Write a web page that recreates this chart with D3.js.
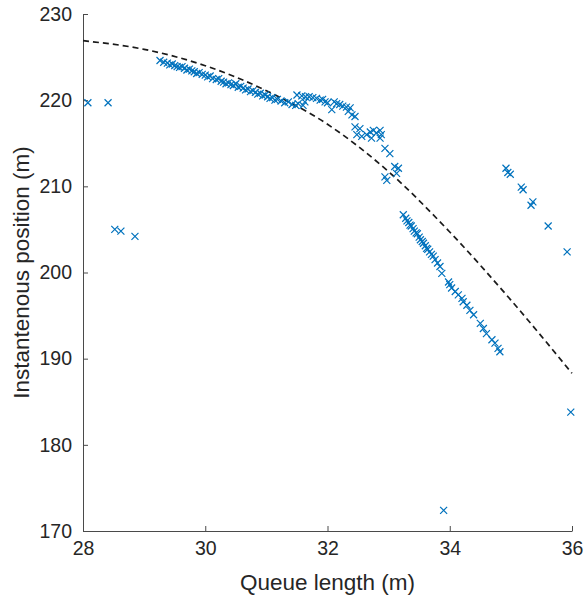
<!DOCTYPE html>
<html><head><meta charset="utf-8">
<script src="https://cdn.jsdelivr.net/npm/d3@7"></script>
<style>body{margin:0;background:#fff}svg{display:block}text{font-family:"Liberation Sans",Arial,Helvetica,sans-serif;fill:#262626}</style>
</head><body><svg id="c" width="585" height="599"></svg>
<script>
const xTicks = [28, 30, 32, 34, 36];
const yTicks = [170, 180, 190, 200, 210, 220, 230];
const xLabel = "Queue length (m)";
const yLabel = "Instantenous position (m)";

// fitted curve (dashed)
const fitX = [28, 29, 30, 31, 32, 33, 34, 35, 36];
const fitY = [226.9, 225.9, 224.0, 221.1, 217.2, 211.7, 204.7, 196.8, 188.3];

// scatter points (x = queue length, y = position)
const isolatedX = [28.08, 28.41, 28.52, 28.62, 28.85, 33.90, 35.98, 35.92, 35.61, 35.36, 35.33, 35.17, 35.20, 34.92, 34.95, 34.99];
const isolatedY = [219.7, 219.7, 205.0, 204.8, 204.2, 172.4, 183.8, 202.4, 205.4, 208.2, 207.8, 209.9, 209.6, 212.1, 211.6, 211.4];

const band1X = [29.26, 29.32, 29.38, 29.42, 29.46, 29.50, 29.54, 29.58, 29.62, 29.66, 29.70, 29.74, 29.78, 29.82, 29.86, 29.90, 29.95, 30.00, 30.04, 30.08, 30.12, 30.18, 30.22, 30.26, 30.30, 30.34, 30.38, 30.42, 30.46, 30.50, 30.54, 30.58, 30.62, 30.66, 30.70, 30.74, 30.78, 30.82, 30.86, 30.90, 30.94, 30.98, 31.02, 31.06, 31.10, 31.14, 31.18, 31.24, 31.30, 31.36, 31.42, 31.48, 31.52];
const band1Y = [224.6, 224.4, 224.3, 224.1, 224.2, 224.0, 223.9, 223.8, 223.9, 223.7, 223.5, 223.6, 223.4, 223.3, 223.1, 223.2, 223.0, 222.9, 222.7, 222.8, 222.5, 222.4, 222.5, 222.2, 222.1, 221.9, 222.0, 221.8, 221.7, 221.9, 221.5, 221.6, 221.4, 221.2, 221.3, 221.0, 221.1, 220.9, 220.7, 220.8, 220.5, 220.6, 220.4, 220.2, 220.3, 220.0, 220.1, 219.9, 219.7, 219.8, 219.5, 219.4, 219.6];

const band2X = [31.50, 31.58, 31.64, 31.70, 31.76, 31.82, 31.88, 31.60, 31.63, 31.92, 31.96, 32.00, 32.07, 32.11, 32.15, 32.20, 32.25, 32.31, 32.34, 32.37, 32.40, 32.45, 32.45, 32.53, 32.48, 32.56, 32.64, 32.70, 32.75, 32.80, 32.86, 32.88, 32.72, 32.86, 32.94, 33.02, 33.10, 33.16, 32.94, 32.97, 33.13];
const band2Y = [220.6, 220.5, 220.4, 220.4, 220.3, 220.2, 220.0, 219.4, 219.8, 220.1, 219.8, 219.7, 218.9, 219.8, 219.6, 219.5, 219.3, 219.2, 218.7, 219.1, 218.3, 218.1, 216.9, 216.7, 216.0, 215.8, 216.0, 216.3, 216.5, 216.2, 216.5, 216.0, 215.6, 215.6, 214.4, 213.8, 212.3, 212.1, 211.1, 210.7, 211.5];

const band3X = [33.24, 33.28, 33.30, 33.33, 33.35, 33.37, 33.40, 33.42, 33.45, 33.47, 33.50, 33.52, 33.55, 33.57, 33.60, 33.62, 33.64, 33.67, 33.70, 33.73, 33.76, 33.80, 33.84, 33.87, 33.98, 34.00, 34.03, 34.09, 34.14, 34.20, 34.22, 34.28, 34.33, 34.39, 34.50, 34.55, 34.60, 34.69, 34.74, 34.79, 34.82];
const band3Y = [206.7, 206.3, 206.0, 205.8, 205.5, 205.4, 205.1, 204.8, 204.6, 204.5, 204.1, 203.8, 203.6, 203.4, 203.1, 202.8, 202.7, 202.4, 202.1, 201.9, 201.5, 201.1, 200.7, 199.9, 198.9, 198.6, 198.2, 197.8, 197.4, 197.0, 196.6, 196.2, 195.6, 195.1, 194.1, 193.5, 192.9, 192.2, 191.8, 191.2, 190.8];

const svg = d3.select("#c");
const L = 83, R = 572, T = 14, B = 531;
const x = d3.scaleLinear().domain([28, 36]).range([L, R]);
const y = d3.scaleLinear().domain([170, 230]).range([B, T]);

const axisColor = "#4a4a4a";
const gx = svg.append("g").attr("transform", `translate(0,${B})`)
  .call(d3.axisBottom(x).tickValues(xTicks).tickSizeInner(-5).tickSizeOuter(0).tickPadding(10));
const gy = svg.append("g").attr("transform", `translate(${L},0)`)
  .call(d3.axisLeft(y).tickValues(yTicks).tickSizeInner(-5).tickSizeOuter(0).tickPadding(11));
[gx, gy].forEach(g => {
  g.select(".domain").attr("stroke", axisColor).attr("stroke-width", 1);
  g.selectAll(".tick line").attr("stroke", axisColor).attr("stroke-width", 1);
  g.selectAll(".tick text").attr("font-size", 19.5).attr("fill", "#262626")
   .style("font-family", '"Liberation Sans",Arial,Helvetica,sans-serif');
});

svg.append("text").attr("x", (L + R) / 2).attr("y", 590).attr("text-anchor", "middle")
  .attr("font-size", 22.5).text(xLabel);
svg.append("text").attr("transform", `translate(29,${(T + B) / 2}) rotate(-90)`)
  .attr("text-anchor", "middle").attr("font-size", 22.5).text(yLabel);

// dashed fit curve
const line = d3.line().x(d => x(d[0])).y(d => y(d[1])).curve(d3.curveMonotoneX);
svg.append("path").datum(fitX.map((v, i) => [v, fitY[i]]))
  .attr("d", line).attr("fill", "none").attr("stroke", "#1a1a1a")
  .attr("stroke-width", 1.7).attr("stroke-dasharray", "6,4");

// scatter crosses
const pts = [];
[[isolatedX, isolatedY], [band1X, band1Y], [band2X, band2Y], [band3X, band3Y]].forEach(([xs, ys]) => {
  xs.forEach((v, i) => pts.push([v, ys[i]]));
});
const s = 3.5;
svg.append("g").selectAll("path").data(pts).join("path")
  .attr("d", d => {
    const cx = x(d[0]), cy = y(d[1]);
    return `M${cx - s},${cy - s}L${cx + s},${cy + s}M${cx - s},${cy + s}L${cx + s},${cy - s}`;
  })
  .attr("stroke", "#0072BD").attr("stroke-width", 1.2).attr("fill", "none");
</script></body></html>
